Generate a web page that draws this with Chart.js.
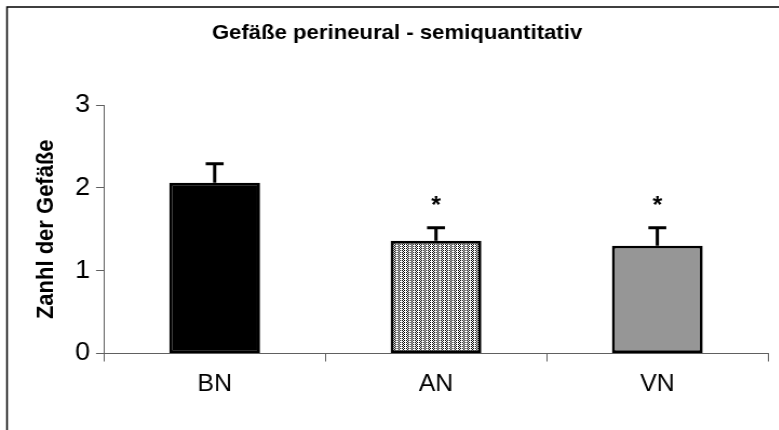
<!DOCTYPE html>
<html lang="de">
<head>
<meta charset="UTF-8">
<title>Gefäße perineural - semiquantitativ</title>
<script src="https://cdn.jsdelivr.net/npm/chart.js"></script>
<style>
    html, body {
        margin: 0;
        padding: 0;
        background: #fff;
        overflow: hidden;
    }
    /* Diagramm wird etwas breiter gezogen (wie im Original-Export) */
    #chart {
        transform: scaleX(1.08);
        transform-origin: 0 0;
        display: block;
    }
</style>
</head>
<body>
<canvas id="chart" width="722" height="430"></canvas>
<script>
    // Gruppen, Mittelwerte und Standardfehler
    const gruppen = ['BN', 'AN', 'VN'];
    const mittelwerte = [2.06, 1.36, 1.30];
    const fehler = [0.23, 0.157, 0.217];
    const signifikanz = ['', '*', '*'];
    const yTicks = [0, 1, 2, 3];

    const FONT = "'Liberation Sans', Arial, sans-serif";

    // Punktraster für AN
    function punktMuster() {
        const c = document.createElement('canvas');
        c.width = 4;
        c.height = 2;
        const g = c.getContext('2d');
        g.fillStyle = '#fff';
        g.fillRect(0, 0, 4, 2);
        g.fillStyle = '#000';
        g.fillRect(0, 0, 1, 1);
        g.fillRect(2, 0, 1, 1);
        g.fillRect(1, 1, 1, 1);
        return g.createPattern(c, 'repeat');
    }

    const rahmen = {
        id: 'rahmen',
        beforeDraw(chart) {
            const ctx = chart.ctx;
            ctx.save();
            ctx.fillStyle = '#fff';
            ctx.fillRect(0, 0, chart.width, chart.height);
            ctx.strokeStyle = '#000';
            ctx.lineWidth = 1.5;
            ctx.strokeRect(6.5, 7, 800, 600);
            ctx.restore();
        }
    };

    // Fehlerbalken (nur nach oben) und Sternchen
    const fehlerBalken = {
        id: 'fehlerBalken',
        afterDatasetsDraw(chart) {
            const ctx = chart.ctx;
            const y = chart.scales.y;
            const meta = chart.getDatasetMeta(0);
            ctx.save();
            ctx.strokeStyle = '#000';
            ctx.lineWidth = 3;
            meta.data.forEach((bar, i) => {
                const oben = y.getPixelForValue(mittelwerte[i] + fehler[i]);
                ctx.beginPath();
                ctx.moveTo(bar.x, bar.y);
                ctx.lineTo(bar.x, oben);
                ctx.moveTo(bar.x - 8.3, oben);
                ctx.lineTo(bar.x + 8.3, oben);
                ctx.stroke();
                if (signifikanz[i]) {
                    ctx.fillStyle = '#000';
                    ctx.font = 'bold 23px ' + FONT;
                    ctx.textAlign = 'center';
                    ctx.textBaseline = 'alphabetic';
                    ctx.fillText(signifikanz[i], bar.x, oben - 15);
                }
            });
            ctx.restore();
        }
    };

    new Chart(document.getElementById('chart'), {
        type: 'bar',
        data: {
            labels: gruppen,
            datasets: [{
                data: mittelwerte,
                backgroundColor: ['#000000', punktMuster(), '#969696'],
                borderColor: '#000',
                borderWidth: 2.8,
                borderSkipped: false,
                barPercentage: 0.41,
                categoryPercentage: 1
            }]
        },
        options: {
            responsive: false,
            animation: false,
            layout: {
                padding: { left: 24.1, right: 10.9, top: 0, bottom: 0 }
            },
            plugins: {
                legend: { display: false },
                tooltip: { enabled: false },
                title: {
                    display: true,
                    text: 'Gefäße perineural - semiquantitativ',
                    color: '#000',
                    font: { family: FONT, size: 20.5, weight: 'bold' },
                    padding: { top: 21.5, bottom: 58.9 }
                }
            },
            scales: {
                x: {
                    grid: {
                        drawOnChartArea: false,
                        tickLength: 8,
                        color: '#606060'
                    },
                    border: { color: '#606060', width: 1 },
                    ticks: {
                        color: '#000',
                        padding: 9,
                        font: { family: FONT, size: 23 }
                    },
                    afterFit(scale) { scale.height = 76.5; }
                },
                y: {
                    min: yTicks[0],
                    max: yTicks[yTicks.length - 1],
                    afterBuildTicks(scale) {
                        scale.ticks = yTicks.map(v => ({ value: v }));
                    },
                    grid: {
                        drawOnChartArea: false,
                        tickLength: 7.4,
                        color: '#606060'
                    },
                    border: { color: '#606060', width: 1 },
                    ticks: {
                        color: '#000',
                        padding: 5.6,
                        font: { family: FONT, size: 25 }
                    },
                    title: {
                        display: true,
                        text: 'Zanhl der Gefäße',
                        color: '#000',
                        font: { family: FONT, size: 22, weight: 'bold' },
                        padding: { top: 5.4, bottom: 0 }
                    },
                    afterFit(scale) { scale.width = 72.2; }
                }
            }
        },
        plugins: [rahmen, fehlerBalken]
    });
</script>
</body>
</html>
